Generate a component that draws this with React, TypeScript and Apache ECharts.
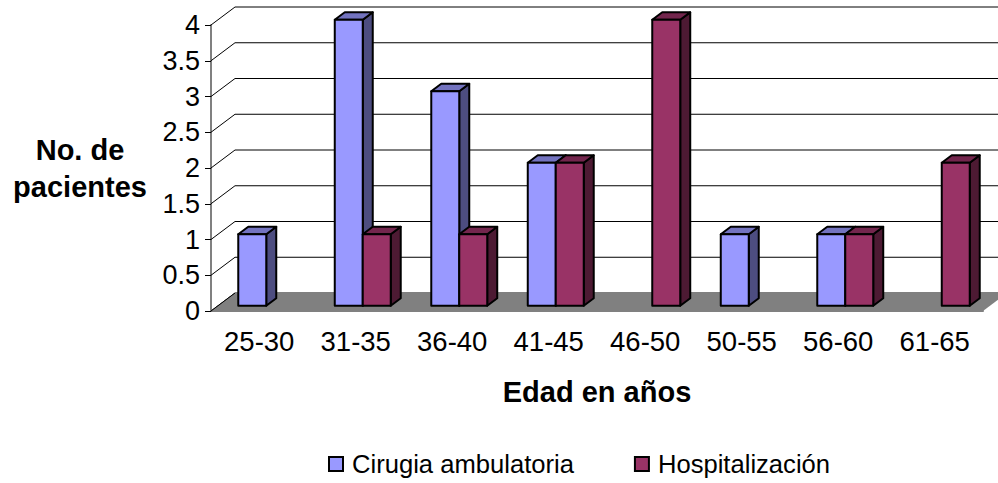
import React, { useEffect, useRef } from "react";
import * as echarts from "echarts";

const categories = ["25-30", "31-35", "36-40", "41-45", "46-50", "50-55", "56-60", "61-65"];
const ambulatoria = [1, 4, 3, 2, 0, 1, 1, 0];
const hospitalizacion = [0, 1, 1, 2, 4, 0, 1, 2];
const yTicks = [0, 0.5, 1, 1.5, 2, 2.5, 3, 3.5, 4];
const seriesNames = ["Cirugia ambulatoria", "Hospitalización"];

const WALL_DX = 24;
const WALL_DY = 18;
const BAR_DX = 10;
const BAR_DY = 7.5;
const FRONT_DX = 7;
const FRONT_DY = 5.25;
const BAR_FRACTION = 0.29;
const FONT = "'Liberation Sans', Arial, sans-serif";

const barRenderer = (slot: number, front: string, side: string, top: string) => (_p: any, api: any) => {
  const idx = api.value(0);
  const val = api.value(1);
  const base = api.coord([idx, 0]);
  const head = api.coord([idx, val]);
  const band = api.size([1, 0])[0];
  const w = band * BAR_FRACTION;
  const x0 = base[0] - w + slot * w + FRONT_DX;
  const x1 = x0 + w;
  const yb = base[1] - FRONT_DY;
  const yt = head[1] - FRONT_DY;
  const line = { stroke: "#000", lineWidth: 2, lineJoin: "round" };
  return {
    type: "group",
    children: [
      { type: "polygon", shape: { points: [[x1, yb], [x1 + BAR_DX, yb - BAR_DY], [x1 + BAR_DX, yt - BAR_DY], [x1, yt]] }, style: { fill: side, ...line } },
      { type: "polygon", shape: { points: [[x0, yt], [x1, yt], [x1 + BAR_DX, yt - BAR_DY], [x0 + BAR_DX, yt - BAR_DY]] }, style: { fill: top, ...line } },
      { type: "rect", shape: { x: x0, y: yt, width: w, height: yb - yt }, style: { fill: front, ...line } },
    ],
  };
};

const wallRenderer = (params: any, api: any) => {
  const tick = api.value(1);
  const p = api.coord([0, tick]);
  const cs = params.coordSys;
  return {
    type: "polyline",
    shape: { points: [[cs.x, p[1]], [cs.x + WALL_DX, p[1] - WALL_DY], [cs.x + cs.width + WALL_DX, p[1] - WALL_DY]] },
    style: { fill: "none", stroke: "#000", lineWidth: 1 },
  };
};

const floorRenderer = (params: any, api: any) => {
  const p = api.coord([0, 0]);
  const cs = params.coordSys;
  return {
    type: "group",
    children: [
      {
        type: "polygon",
        shape: { points: [[cs.x, p[1]], [cs.x + cs.width, p[1]], [cs.x + cs.width + WALL_DX, p[1] - WALL_DY], [cs.x + WALL_DX, p[1] - WALL_DY]] },
        style: { fill: "#808080" },
      },
      { type: "line", shape: { x1: cs.x, y1: p[1], x2: cs.x + WALL_DX, y2: p[1] - WALL_DY }, style: { stroke: "#000", lineWidth: 1 } },
    ],
  };
};

export default function App() {
  const ref = useRef<HTMLDivElement>(null);
  useEffect(() => {
    const chart = echarts.init(ref.current!, undefined, { renderer: "svg" });
    chart.setOption({
      animation: false,
      backgroundColor: "#fff",
      textStyle: { fontFamily: FONT },
      grid: { left: 211, right: 15, top: 25, bottom: 172 },
      xAxis: {
        type: "category",
        data: categories,
        axisLine: { lineStyle: { color: "#808080", width: 2 } },
        axisTick: { length: 7, lineStyle: { color: "#808080", width: 2 } },
        axisLabel: { fontFamily: FONT, fontSize: 27.5, color: "#000", margin: 16, interval: 0 },
        name: "Edad en años",
        nameLocation: "middle",
        nameGap: 66,
        nameTextStyle: { fontFamily: FONT, fontSize: 29, fontWeight: "bold", color: "#000" },
      },
      yAxis: {
        type: "value",
        min: 0,
        max: 4,
        interval: 0.5,
        axisLine: { show: true, lineStyle: { color: "#808080", width: 2 } },
        axisTick: { show: true, length: 6, lineStyle: { color: "#000", width: 1 } },
        splitLine: { show: false },
        axisLabel: { fontFamily: FONT, fontSize: 27, color: "#000", margin: 11 },
        name: "No. de\npacientes",
        nameLocation: "middle",
        nameRotate: 0,
        nameGap: 131,
        nameTextStyle: { fontFamily: FONT, fontSize: 29, fontWeight: "bold", color: "#000", lineHeight: 37, align: "center" },
      },
      legend: {
        data: seriesNames,
        left: 328,
        top: 451,
        padding: 0,
        itemWidth: 14,
        itemHeight: 14,
        itemGap: 60,
        icon: "rect",
        textStyle: { fontFamily: FONT, fontSize: 25.6, color: "#000", padding: [0, 0, 0, 4] },
      },
      series: [
        {
          type: "custom",
          name: "wall",
          silent: true,
          z: 1,
          renderItem: wallRenderer,
          data: yTicks.map((t) => [0, t]),
        },
        {
          type: "custom",
          name: "floor",
          silent: true,
          z: 2,
          renderItem: floorRenderer,
          data: [[0, 0]],
        },
        {
          type: "custom",
          name: seriesNames[0],
          z: 3,
          itemStyle: { color: "#9999FF", borderColor: "#000", borderWidth: 1.5 },
          renderItem: barRenderer(0, "#9999FF", "#4D4D80", "#7373BF"),
          data: ambulatoria.map((v, i) => [i, v]).filter((d) => d[1] > 0),
        },
        {
          type: "custom",
          name: seriesNames[1],
          z: 4,
          itemStyle: { color: "#993366", borderColor: "#000", borderWidth: 1.5 },
          renderItem: barRenderer(1, "#993366", "#4D1A33", "#73264D"),
          data: hospitalizacion.map((v, i) => [i, v]).filter((d) => d[1] > 0),
        },
      ],
    });
    return () => chart.dispose();
  }, []);
  return (
    <div style={{ position: "fixed", left: 0, top: 0 }}>
      <div ref={ref} style={{ width: 998, height: 483 }} />
    </div>
  );
}
